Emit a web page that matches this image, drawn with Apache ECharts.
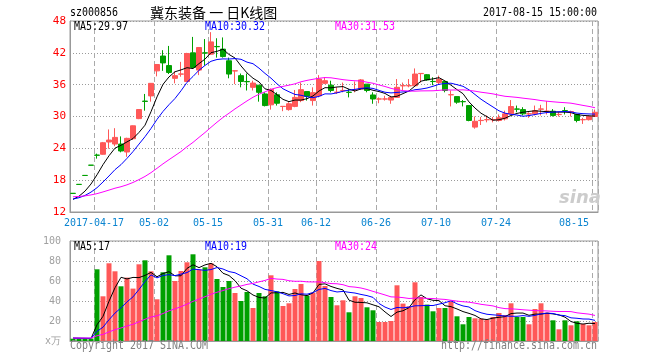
<!DOCTYPE html>
<html><head><meta charset="utf-8">
<script src="https://cdn.jsdelivr.net/npm/echarts/dist/echarts.min.js"></script>
<style>html,body{margin:0;padding:0;background:#fff}#c{width:660px;height:360px}</style>
</head><body><div id="c"></div>
<script>
const dates = ['2017-04-11','2017-04-12','2017-04-13','2017-04-14','2017-04-17','2017-04-18','2017-04-19','2017-04-20','2017-04-21','2017-04-24','2017-04-25','2017-04-26','2017-04-27','2017-04-28',
'2017-05-02','2017-05-03','2017-05-04','2017-05-05','2017-05-08','2017-05-09','2017-05-10','2017-05-11','2017-05-12','2017-05-15','2017-05-16','2017-05-17','2017-05-18','2017-05-19','2017-05-22','2017-05-23','2017-05-24','2017-05-25','2017-05-26','2017-05-31',
'2017-06-01','2017-06-02','2017-06-05','2017-06-06','2017-06-07','2017-06-08','2017-06-09','2017-06-12','2017-06-13','2017-06-14','2017-06-15','2017-06-16','2017-06-19','2017-06-20','2017-06-21','2017-06-22','2017-06-23','2017-06-26','2017-06-27','2017-06-28','2017-06-29','2017-06-30',
'2017-07-03','2017-07-04','2017-07-05','2017-07-06','2017-07-07','2017-07-10','2017-07-11','2017-07-12','2017-07-13','2017-07-14','2017-07-17','2017-07-18','2017-07-19','2017-07-20','2017-07-21','2017-07-24','2017-07-25','2017-07-26','2017-07-27','2017-07-28','2017-07-31',
'2017-08-01','2017-08-02','2017-08-03','2017-08-04','2017-08-07','2017-08-08','2017-08-09','2017-08-10','2017-08-11','2017-08-14','2017-08-15'];
const opens  = [15.52,17.21,18.90,20.83,22.73,22.88,25.19,24.81,24.81,23.31,25.81,29.60,32.90,33.88,38.60,41.40,39.60,37.19,37.98,36.60,42.00,38.75,42.00,41.75,43.20,42.70,40.50,38.58,37.70,36.60,35.50,35.90,34.25,32.20,34.10,31.88,31.30,31.90,33.00,34.70,33.00,33.90,36.25,35.90,34.54,34.88,34.58,35.04,35.20,36.10,34.06,33.28,33.28,33.10,33.60,35.78,35.78,35.80,38.08,37.88,36.62,36.40,36.60,34.08,33.75,32.82,32.06,28.00,29.23,29.38,29.38,29.25,29.56,30.50,31.42,31.30,30.48,30.50,31.38,30.98,31.00,30.36,31.12,30.88,30.38,29.38,29.40,30.00];
const closes = [15.50,17.19,18.88,20.81,22.69,25.06,25.56,26.06,23.50,25.88,28.25,31.31,32.85,36.25,39.80,40.10,38.30,37.70,38.02,41.88,39.25,43.00,41.95,44.06,43.15,41.30,38.00,38.62,36.60,36.55,36.30,34.56,32.06,35.10,32.50,31.92,32.40,33.60,35.06,33.80,34.50,37.06,36.75,34.90,34.58,34.92,34.54,35.08,36.90,34.90,33.30,33.32,33.32,33.60,35.50,35.82,35.82,38.00,38.12,36.90,36.58,37.00,34.90,34.12,32.70,32.78,29.25,29.10,29.27,29.42,29.42,29.75,30.50,31.88,31.38,30.50,30.52,31.10,31.42,31.02,30.20,30.40,31.08,30.92,29.25,29.42,30.00,30.80];
const lows   = [15.50,17.19,18.88,20.81,22.06,22.80,23.94,24.40,23.25,22.40,25.60,29.50,31.10,32.80,37.56,38.60,38.00,36.25,37.50,36.50,39.20,37.80,39.60,41.60,41.10,41.10,37.20,36.10,35.50,34.90,34.90,32.80,31.90,31.30,32.06,31.00,31.10,31.75,32.70,33.00,32.06,33.60,36.10,34.56,34.25,34.56,33.60,34.56,35.00,34.56,32.40,32.50,33.00,32.40,33.60,35.00,35.50,35.80,36.40,36.75,35.90,36.10,34.56,31.90,32.40,31.90,29.10,27.70,28.40,28.90,28.90,29.06,29.25,30.50,30.80,30.20,29.75,30.20,30.20,30.38,30.00,30.00,30.38,30.00,28.90,28.60,29.25,30.00];
const highs  = [15.52,17.21,18.90,20.83,23.00,25.20,27.56,27.80,26.25,26.00,28.30,31.35,34.25,36.30,39.85,42.50,43.30,38.50,40.30,42.00,45.00,43.10,44.60,45.90,44.75,44.90,41.10,38.70,38.10,38.10,36.75,35.90,34.56,35.30,34.56,31.95,32.70,35.00,36.40,34.70,35.50,37.80,37.40,36.75,35.50,36.40,35.20,36.60,37.06,36.10,34.56,33.60,33.90,33.90,37.06,36.40,37.06,39.06,38.12,38.00,37.40,37.70,36.60,34.90,33.75,33.10,32.06,30.00,29.90,30.20,29.90,30.38,31.10,33.10,32.06,31.75,30.80,32.06,32.20,32.90,31.40,30.80,31.75,31.10,30.50,29.75,30.20,31.30];
const volumes = [2.3,2.3,2.3,2.5,71.7,44.7,77.7,69.7,54.7,63.4,52.4,76.7,80.7,69.7,41.7,68.7,85.7,60.0,70.0,78.7,86.7,71.4,73.7,77.7,62.0,54.0,60.0,48.0,40.0,49.0,33.0,48.0,44.7,65.7,49.7,35.0,37.7,52.0,57.0,45.4,48.4,80.0,55.0,44.0,35.7,40.7,28.7,44.7,43.0,33.7,30.7,19.0,19.0,20.0,55.7,37.4,34.7,58.7,44.0,36.4,29.7,33.0,33.0,39.7,24.7,16.7,24.0,22.7,22.4,21.4,24.0,28.0,26.0,37.7,24.0,24.0,16.7,32.0,37.7,28.4,20.7,11.7,20.7,15.7,19.7,17.0,15.7,19.0];
const priorCloses = [15.6,15.5,15.4,15.5,15.3,15.2,15.3,15.2,15.1,15.0,15.1,15.0,14.9,15.0,14.9,14.8,14.9,14.8,14.7,14.6,14.7,14.6,14.5,14.4,14.3,14.2,14.1,14.1,14.0];
const priorVolumes = [3.4,3.1,2.9,3.2,3.0,2.8,3.3,3.1,2.9,3.0,3.2,2.8,3.1,3.0,2.9,3.3,3.0,2.8,3.1,3.2,2.9,3.0,3.1,2.8,3.0,3.2,2.9,3.0,3.1];
const tickLabels = ['2017-04-17','2017-05-02','2017-05-15','2017-05-31','2017-06-12','2017-06-26','2017-07-10','2017-07-24','2017-08-15'];
const priceHeads = ['MA5:29.97','MA10:30.32','MA30:31.53'];
const volHeads = ['MA5:17','MA10:19','MA30:24'];
const stockCode = 'sz000856';
const chartTitle = '冀东装备 一 日K线图';
const stamp = '2017-08-15 15:00:00';

const RED = '#ff5858', GREEN = '#00a000';
const MONO = '"DejaVu Sans Mono", "Liberation Mono", monospace';
const MA_COLORS = ['#000000', '#0000ff', '#ff00ff'];

function movingAvg(vals, prior, n) {
  const all = prior.concat(vals);
  return vals.map((v, i) => {
    const j = prior.length + i;
    let s = 0;
    for (let k = j - n + 1; k <= j; k++) s += all[k];
    return +(s / n).toFixed(3);
  });
}
const isTick = (idx, val) => tickLabels.indexOf(val) >= 0;
const candles = dates.map((d, i) => [opens[i], closes[i], lows[i], highs[i]]);
const volBars = volumes.map((v, i) => ({value: v, itemStyle: {color: closes[i] >= opens[i] ? RED : GREEN}}));

function maLine(name, data, color, xi, yi) {
  return {name, type: 'line', xAxisIndex: xi, yAxisIndex: yi, data, symbol: 'none', smooth: false,
    lineStyle: {color, width: 1}, itemStyle: {color}, silent: true, z: 5};
}
const gridCommon = {left: 70, right: 62, show: true, borderColor: '#999', borderWidth: 1, backgroundColor: 'transparent', outerBoundsMode: 'none', containLabel: false};
const dash = {color: '#aaaaaa', width: 1, type: [5, 3]};
const dots = {color: '#9a9a9a', width: 1, type: [1, 2]};

const chart = echarts.init(document.getElementById('c'), null, {renderer: 'canvas'});
// monospace text squeezed to a 6px character cell like the bitmap font of the original
const txt = (text, x, y, color, align) => ({type: 'text', x, y, z: 100, silent: true, scaleX: 0.83,
  style: {text, fill: color, font: '12px ' + MONO, align: align || 'left', verticalAlign: 'middle'}});

chart.setOption({
  animation: false,
  backgroundColor: '#ffffff',
  grid: [Object.assign({top: 21, height: 191}, gridCommon), Object.assign({top: 241, height: 100}, gridCommon)],
  xAxis: [
    {type: 'category', gridIndex: 0, data: dates, boundaryGap: true,
     axisLine: {lineStyle: {color: '#999'}}, axisTick: {show: false},
     axisLabel: {interval: isTick, color: '#0a84d0', fontFamily: MONO, fontSize: 10, margin: 6, padding: [0, 6, 0, 0], alignMaxLabel: 'right',
       formatter: (v) => v === tickLabels[0] ? v : v.slice(5)},
     splitLine: {show: true, interval: isTick, lineStyle: dash}},
    {type: 'category', gridIndex: 1, data: dates, boundaryGap: true,
     axisLine: {lineStyle: {color: '#999'}}, axisTick: {show: false}, axisLabel: {show: false},
     splitLine: {show: true, interval: isTick, lineStyle: dash}}
  ],
  yAxis: [
    {type: 'value', gridIndex: 0, min: 12, max: 48, interval: 6, scale: false,
     axisLine: {show: true, lineStyle: {color: '#999'}}, axisTick: {show: false},
     axisLabel: {color: '#ff0000', fontFamily: MONO, fontSize: 11, margin: 4},
     splitLine: {show: true, lineStyle: dots}},
    {type: 'value', gridIndex: 1, min: 0, max: 100, interval: 20,
     axisLine: {show: true, lineStyle: {color: '#999'}}, axisTick: {show: false},
     axisLabel: {color: '#a0a0a0', fontFamily: MONO, fontSize: 10, margin: 9, formatter: (v) => v === 0 ? 'x万' : String(v)},
     splitLine: {show: true, lineStyle: dots}}
  ],
  series: [
    {type: 'candlestick', xAxisIndex: 0, yAxisIndex: 0, data: candles, barWidth: 5, silent: true,
     itemStyle: {color: RED, color0: GREEN, borderColor: RED, borderColor0: GREEN, borderWidth: 1}},
    maLine('MA5', movingAvg(closes, priorCloses, 5), MA_COLORS[0], 0, 0),
    maLine('MA10', movingAvg(closes, priorCloses, 10), MA_COLORS[1], 0, 0),
    maLine('MA30', movingAvg(closes, priorCloses, 30), MA_COLORS[2], 0, 0),
    {type: 'bar', xAxisIndex: 1, yAxisIndex: 1, data: volBars, barWidth: 5, silent: true},
    maLine('VMA5', movingAvg(volumes, priorVolumes, 5), MA_COLORS[0], 1, 1),
    maLine('VMA10', movingAvg(volumes, priorVolumes, 10), MA_COLORS[1], 1, 1),
    maLine('VMA30', movingAvg(volumes, priorVolumes, 30), MA_COLORS[2], 1, 1)
  ],
  graphic: [
    txt(stockCode, 70, 13, '#000'),
    {type: 'text', x: 150, y: 13, z: 100, silent: true,
     style: {text: chartTitle, fill: '#000', font: '14px "Noto Sans CJK SC"', align: 'left', verticalAlign: 'middle'}},
    txt(stamp, 597, 13, '#000', 'right'),
    txt(priceHeads[0], 74, 27, MA_COLORS[0]),
    txt(priceHeads[1], 205, 27, MA_COLORS[1]),
    txt(priceHeads[2], 335, 27, MA_COLORS[2]),
    txt(volHeads[0], 74, 247, MA_COLORS[0]),
    txt(volHeads[1], 205, 247, MA_COLORS[1]),
    txt(volHeads[2], 335, 247, MA_COLORS[2]),
    txt('Copyright 2017 SINA.COM', 70, 346, '#808080'),
    txt('http://finance.sina.com.cn', 597, 346, '#808080', 'right'),
    {type: 'text', x: 580, y: 198, z: 100, silent: true,
     style: {text: 'sina', fill: '#cccccc', font: 'italic bold 18px "DejaVu Sans"', align: 'center', verticalAlign: 'middle'}}
  ]
});
</script></body></html>
